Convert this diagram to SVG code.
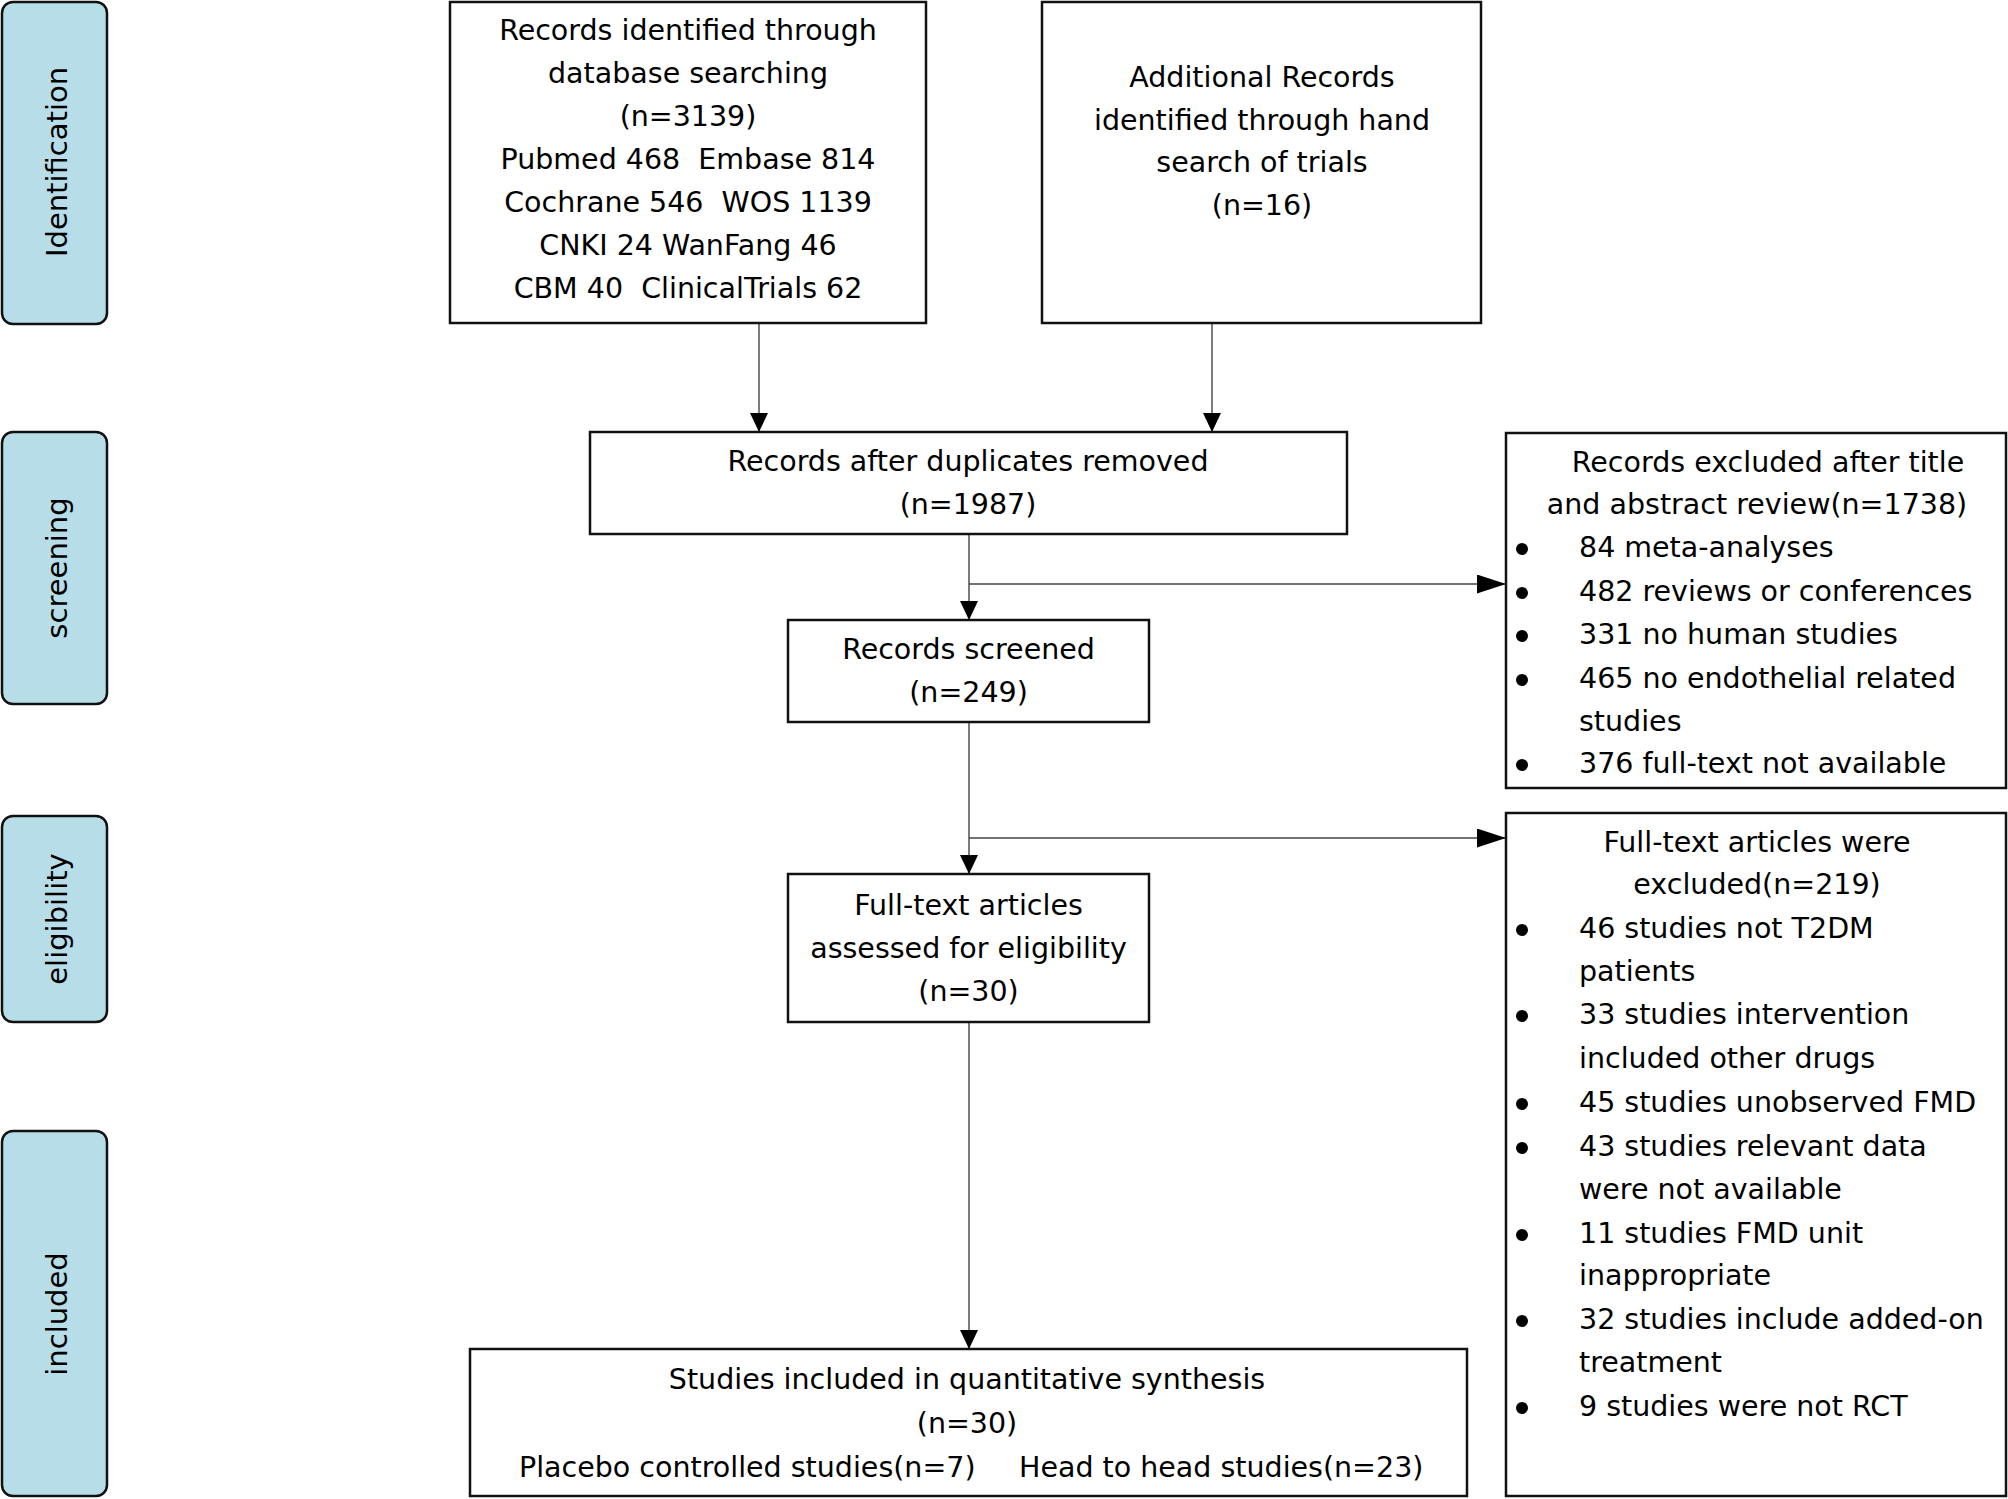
<svg xmlns="http://www.w3.org/2000/svg" width="2008" height="1499" viewBox="0 0 2008 1499">
<style>
  .box { fill: #ffffff; stroke: #111111; stroke-width: 2.5; }
  .lab { fill: #b7dee8; stroke: #111111; stroke-width: 2.5; }
  .t { font-family: "DejaVu Sans", "Liberation Sans", sans-serif; font-size: 28.5px; fill: #000000; }
  .c { text-anchor: middle; }
  .lt { font-family: "DejaVu Sans", "Liberation Sans", sans-serif; font-size: 29px; fill: #000000; text-anchor: middle; }
  .con { fill: none; stroke: #444444; stroke-width: 1.4; }
  .bul { fill: #000000; }
</style>
<defs>
  <marker id="av" markerUnits="userSpaceOnUse" markerWidth="19" markerHeight="18" refX="19" refY="9" orient="auto">
    <path d="M0,0 L19,9 L0,18 z" fill="#000000"/>
  </marker>
  <marker id="ah" markerUnits="userSpaceOnUse" markerWidth="29" markerHeight="19" refX="29" refY="9.5" orient="auto">
    <path d="M0,0 L29,9.5 L0,19 z" fill="#000000"/>
  </marker>
</defs>
<rect width="2008" height="1499" fill="#ffffff"/>

<g id="label-identification">
  <rect class="lab" x="2" y="2" width="105" height="322" rx="11"/>
  <text class="lt" transform="translate(67,162) rotate(-90)">Identification</text>
</g>
<g id="label-screening">
  <rect class="lab" x="2" y="432" width="105" height="272" rx="11"/>
  <text class="lt" transform="translate(67,568) rotate(-90)">screening</text>
</g>
<g id="label-eligibility">
  <rect class="lab" x="2" y="816" width="105" height="206" rx="11"/>
  <text class="lt" transform="translate(67,919) rotate(-90)">eligibility</text>
</g>
<g id="label-included">
  <rect class="lab" x="2" y="1131" width="105" height="365" rx="11"/>
  <text class="lt" transform="translate(67,1314) rotate(-90)">included</text>
</g>

<g id="connectors">
  <line class="con" x1="759" y1="323" x2="759" y2="432" marker-end="url(#av)"/>
  <line class="con" x1="1212" y1="323" x2="1212" y2="432" marker-end="url(#av)"/>
  <line class="con" x1="969" y1="534" x2="969" y2="620" marker-end="url(#av)"/>
  <line class="con" x1="969" y1="584" x2="1506" y2="584" marker-end="url(#ah)"/>
  <line class="con" x1="969" y1="722" x2="969" y2="874" marker-end="url(#av)"/>
  <line class="con" x1="969" y1="838" x2="1506" y2="838" marker-end="url(#ah)"/>
  <line class="con" x1="969" y1="1022" x2="969" y2="1349" marker-end="url(#av)"/>
</g>

<g id="box-database">
  <rect class="box" x="450" y="2" width="476" height="321"/>
  <text class="t c" x="688" y="40">Records identified through</text>
  <text class="t c" x="688" y="83">database searching</text>
  <text class="t c" x="688" y="126">(n=3139)</text>
  <text class="t c" x="688" y="169" xml:space="preserve">Pubmed 468  Embase 814</text>
  <text class="t c" x="688" y="212" xml:space="preserve">Cochrane 546  WOS 1139</text>
  <text class="t c" x="688" y="255">CNKI 24 WanFang 46</text>
  <text class="t c" x="688" y="298" xml:space="preserve">CBM 40  ClinicalTrials 62</text>
</g>

<g id="box-additional">
  <rect class="box" x="1042" y="2" width="439" height="321"/>
  <text class="t c" x="1262" y="87">Additional Records</text>
  <text class="t c" x="1262" y="130">identified through hand</text>
  <text class="t c" x="1262" y="172">search of trials</text>
  <text class="t c" x="1262" y="215">(n=16)</text>
</g>

<g id="box-duplicates">
  <rect class="box" x="590" y="432" width="757" height="102"/>
  <text class="t c" x="968" y="471">Records after duplicates removed</text>
  <text class="t c" x="968" y="514">(n=1987)</text>
</g>

<g id="box-excluded-title">
  <rect class="box" x="1506" y="433" width="500" height="355"/>
  <text class="t c" x="1768" y="472">Records excluded after title</text>
  <text class="t c" x="1757" y="514">and abstract review(n=1738)</text>
  <circle class="bul" cx="1522" cy="549" r="6"/>
  <text class="t" x="1579" y="557">84 meta-analyses</text>
  <circle class="bul" cx="1522" cy="593" r="6"/>
  <text class="t" x="1579" y="601">482 reviews or conferences</text>
  <circle class="bul" cx="1522" cy="636" r="6"/>
  <text class="t" x="1579" y="644">331 no human studies</text>
  <circle class="bul" cx="1522" cy="680" r="6"/>
  <text class="t" x="1579" y="688">465 no endothelial related</text>
  <text class="t" x="1579" y="731">studies</text>
  <circle class="bul" cx="1522" cy="765" r="6"/>
  <text class="t" x="1579" y="773">376 full-text not available</text>
</g>

<g id="box-screened">
  <rect class="box" x="788" y="620" width="361" height="102"/>
  <text class="t c" x="968.5" y="659">Records screened</text>
  <text class="t c" x="968.5" y="702">(n=249)</text>
</g>

<g id="box-fulltext-excluded">
  <rect class="box" x="1506" y="813" width="500" height="683"/>
  <text class="t c" x="1757" y="852">Full-text articles were</text>
  <text class="t c" x="1757" y="894">excluded(n=219)</text>
  <circle class="bul" cx="1522" cy="930" r="6"/>
  <text class="t" x="1579" y="938">46 studies not T2DM</text>
  <text class="t" x="1579" y="981">patients</text>
  <circle class="bul" cx="1522" cy="1016" r="6"/>
  <text class="t" x="1579" y="1024">33 studies intervention</text>
  <text class="t" x="1579" y="1068">included other drugs</text>
  <circle class="bul" cx="1522" cy="1104" r="6"/>
  <text class="t" x="1579" y="1112">45 studies unobserved FMD</text>
  <circle class="bul" cx="1522" cy="1148" r="6"/>
  <text class="t" x="1579" y="1156">43 studies relevant data</text>
  <text class="t" x="1579" y="1199">were not available</text>
  <circle class="bul" cx="1522" cy="1235" r="6"/>
  <text class="t" x="1579" y="1243">11 studies FMD unit</text>
  <text class="t" x="1579" y="1285">inappropriate</text>
  <circle class="bul" cx="1522" cy="1321" r="6"/>
  <text class="t" x="1579" y="1329">32 studies include added-on</text>
  <text class="t" x="1579" y="1372">treatment</text>
  <circle class="bul" cx="1522" cy="1408" r="6"/>
  <text class="t" x="1579" y="1416">9 studies were not RCT</text>
</g>

<g id="box-assessed">
  <rect class="box" x="788" y="874" width="361" height="148"/>
  <text class="t c" x="968.5" y="915">Full-text articles</text>
  <text class="t c" x="968.5" y="958">assessed for eligibility</text>
  <text class="t c" x="968.5" y="1001">(n=30)</text>
</g>

<g id="box-included">
  <rect class="box" x="470" y="1349" width="997" height="147"/>
  <text class="t c" x="967" y="1389">Studies included in quantitative synthesis</text>
  <text class="t c" x="967" y="1433">(n=30)</text>
  <text class="t" x="519" y="1477">Placebo controlled studies(n=7)</text>
  <text class="t" x="1019" y="1477">Head to head studies(n=23)</text>
</g>
</svg>
